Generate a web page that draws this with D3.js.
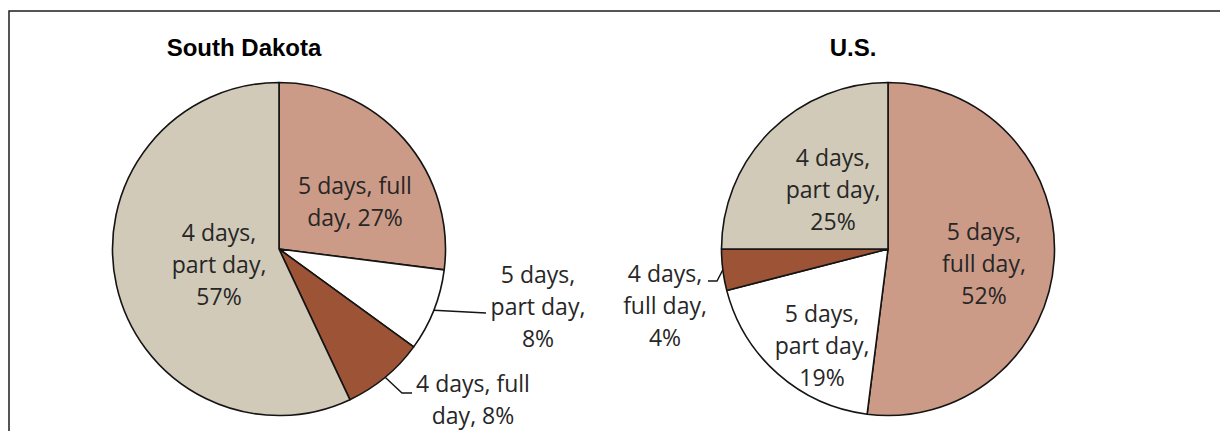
<!DOCTYPE html>
<html>
<head>
<meta charset="utf-8">
<script src="https://cdn.jsdelivr.net/npm/d3@7"></script>
<style>
  html, body { margin: 0; padding: 0; background: #fff; }
  svg { display: block; }
</style>
</head>
<body>
<div id="chart"></div>
<script>
// data
const categorias = ["5 days, full day", "5 days, part day", "4 days, full day", "4 days, part day"];
const valoresSD = [27, 8, 8, 57];
const valoresUS = [52, 19, 4, 25];
const titulos = ["South Dakota", "U.S."];
const etiquetasSD = [["5 days, full", "day, 27%"], ["5 days,", "part day,", "8%"], ["4 days, full", "day, 8%"], ["4 days,", "part day,", "57%"]];
const etiquetasUS = [["5 days,", "full day,", "52%"], ["5 days,", "part day,", "19%"], ["4 days,", "full day,", "4%"], ["4 days,", "part day,", "25%"]];

// layout: label offsets from the pie centre (first baseline), leader line bends
const posSD = [[76, -55], [259, 34], [194, 143], [-60, -8]];
const posUS = [[96, -9], [-66, 73], [-223, 33], [-55, -83]];
const guiasSD = [null, [[207, 64]], [[123, 144], [133, 144]], null];
const guiasUS = [null, null, [[-171, 32], [-180, 32]], null];

const ancho = 1220, alto = 431;
const radio = 166.5;
const centroY = 249;
const centros = [279, 888];
const lineaAlto = 32;

const colores = d3.scaleOrdinal()
    .domain(categorias)
    .range(["#CC9B88", "#FFFFFF", "#9C5336", "#D1CAB8"]);

const $svg = d3.select("#chart")
    .append("svg")
    .attr("width", ancho)
    .attr("height", alto);

// marco
$svg.append("rect")
    .attr("x", 9)
    .attr("y", 11)
    .attr("width", 1400)
    .attr("height", 600)
    .attr("fill", "none")
    .attr("stroke", "#1e1e1e")
    .attr("stroke-width", 1.5);

const pie = d3.pie().sort(null).value(d => d.valor);
const arco = d3.arc().innerRadius(0).outerRadius(radio);

const dibujarPastel = (valores, etiquetas, pos, guias, cx, titulo) => {
    const datos = valores.map((v, i) => ({ categoria: categorias[i], valor: v }));
    const rebanadas = pie(datos);
    const g = $svg.append("g").attr("transform", `translate(${cx},${centroY})`);

    g.selectAll("path.rebanada")
        .data(rebanadas)
        .join("path")
        .attr("class", "rebanada")
        .attr("d", arco)
        .attr("fill", d => colores(d.data.categoria))
        .attr("stroke", "#141414")
        .attr("stroke-width", 1.6)
        .attr("stroke-linejoin", "round");

    // lineas guia, desde el borde de la rebanada hasta la etiqueta
    rebanadas.forEach((d, i) => {
        if (!guias[i]) return;
        const a = (d.startAngle + d.endAngle) / 2;
        const inicio = [Math.sin(a) * radio, -Math.cos(a) * radio];
        g.append("path")
            .attr("d", d3.line()([inicio, ...guias[i]]))
            .attr("fill", "none")
            .attr("stroke", "#141414")
            .attr("stroke-width", 1.4);
    });

    etiquetas.forEach((lineas, i) => {
        const t = g.append("text")
            .attr("x", pos[i][0])
            .attr("y", pos[i][1])
            .attr("fill", "#262626")
            .attr("font-family", "'Open Sans', sans-serif")
            .attr("font-size", 23)
            .attr("text-anchor", "middle");
        lineas.forEach((l, k) => {
            t.append("tspan")
                .attr("x", pos[i][0])
                .attr("y", pos[i][1] + k * lineaAlto)
                .text(l);
        });
    });

    $svg.append("text")
        .attr("x", cx - 35)
        .attr("y", 56)
        .attr("fill", "#000")
        .attr("font-family", "'Liberation Sans', Arial, sans-serif")
        .attr("font-weight", "bold")
        .attr("font-size", 24)
        .attr("text-anchor", "middle")
        .text(titulo);
};

dibujarPastel(valoresSD, etiquetasSD, posSD, guiasSD, centros[0], titulos[0]);
dibujarPastel(valoresUS, etiquetasUS, posUS, guiasUS, centros[1], titulos[1]);
</script>
</body>
</html>
